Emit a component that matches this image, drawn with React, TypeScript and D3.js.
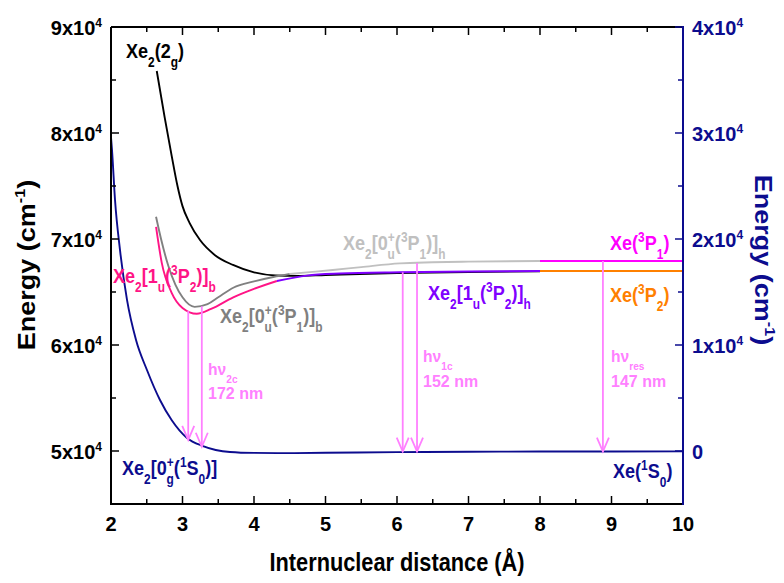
import React from "react";
import * as d3 from "d3";

const WIDTH = 784;
const HEIGHT = 583;
const PLOT = { left: 111, right: 683, top: 27, bottom: 504 };

const FONT = "'Liberation Sans', Arial, Helvetica, sans-serif";
const NAVY = "#0c0c8e";
const ARROW = "#ff80ff";

// Axis domains and ticks
const rDomain: [number, number] = [2, 10];
const energyDomain: [number, number] = [45000, 90000];
const relDomain: [number, number] = [-5000, 40000];
const rMajorTicks = [2, 3, 4, 5, 6, 7, 8, 9, 10];
const rMinorTicks = [2.5, 3.5, 4.5, 5.5, 6.5, 7.5, 8.5, 9.5];
const rTickLabels = ["2", "3", "4", "5", "6", "7", "8", "9", "10"];
const energyMajorTicks = [50000, 60000, 70000, 80000, 90000];
const energyMinorTicks = [55000, 65000, 75000, 85000];
const energyTickLabels = ["5x10^{4}", "6x10^{4}", "7x10^{4}", "8x10^{4}", "9x10^{4}"];
const relMajorTicks = [0, 10000, 20000, 30000, 40000];
const relMinorTicks = [5000, 15000, 25000, 35000];
const relTickLabels = ["0", "1x10^{4}", "2x10^{4}", "3x10^{4}", "4x10^{4}"];

// Potential energy curves: [internuclear distance (Å), energy (cm^-1)]
const groundCurve: [number, number][] = [
  [2.0, 79600], [2.014, 78400], [2.056, 73700], [2.126, 68950], [2.224, 64250],
  [2.35, 60470], [2.503, 57640], [2.685, 54810], [2.85, 52900], [3.063, 51230],
  [3.287, 50470], [3.664, 49910], [4.0, 49820], [4.5, 49800], [5.0, 49830],
  [6.0, 49890], [7.0, 49930], [8.0, 49950], [10.0, 49960],
];
const xe2_2gCurve: [number, number][] = [
  [2.64, 85850], [2.75, 81500], [2.85, 77800], [2.93, 75000], [3.0, 73100],
  [3.1, 71500], [3.245, 69900], [3.45, 68500], [3.706, 67550], [4.0, 66850],
  [4.3, 66560], [4.6, 66520], [5.0, 66600], [6.0, 66780], [7.0, 66880], [8.0, 66950],
];
const xe2_0u_bCurve: [number, number][] = [
  [2.63, 72100], [2.7, 70000], [2.8, 67500], [2.9, 65700], [3.0, 64500],
  [3.17, 63600], [3.35, 63850], [3.5, 64500], [3.71, 65400], [4.0, 66000],
  [4.27, 66420], [4.5, 66700],
];
const xe2_0u_hCurve: [number, number][] = [
  [4.5, 66700], [4.74, 66850], [5.1, 67075], [5.5, 67350], [6.04, 67700],
  [6.5, 67800], [7.0, 67870], [8.0, 67930],
];
const xe2_1u_bCurve: [number, number][] = [
  [2.63, 71150], [2.71, 67750], [2.85, 64900], [3.0, 63500], [3.2, 62950],
  [3.4, 63400], [3.71, 64500], [4.0, 65300], [4.32, 66040],
];
const xe2_1u_hCurve: [number, number][] = [
  [4.32, 66040], [4.74, 66550], [5.2, 66740], [6.04, 66860], [7.0, 66940], [8.0, 66980],
];
// Atomic asymptotes
const xe3P1Level: [number, number][] = [[8.0, 67930], [10.0, 67930]];
const xe3P2Level: [number, number][] = [[8.0, 66980], [10.0, 66980]];

// Emission transitions: position, upper energy, lower energy
const emissionR = [3.08, 3.27, 6.08, 6.28, 8.88];
const emissionUpper = [63200, 63650, 66860, 67740, 67930];
const emissionLower = [51050, 50400, 49950, 49950, 49950];

type Seg = { t: string; k: "n" | "sub" | "sup"; back?: number };

function parse(s: string, smallSize: number): Seg[] {
  const out: Seg[] = [];
  let buf = "";
  let i = 0;
  const flush = () => {
    if (buf) out.push({ t: buf, k: "n" });
    buf = "";
  };
  while (i < s.length) {
    const c = s[i];
    if ((c === "_" || c === "^") && s[i + 1] === "{") {
      flush();
      const j = s.indexOf("}", i);
      out.push({ t: s.slice(i + 2, j), k: c === "_" ? "sub" : "sup" });
      i = j + 1;
    } else {
      buf += c;
      i++;
    }
  }
  flush();
  // a superscript directly followed by a subscript is stacked
  for (let k = 1; k < out.length; k++) {
    if (out[k].k === "sub" && out[k - 1].k === "sup") {
      out[k].back = out[k - 1].t.length * smallSize * 0.6;
    }
  }
  return out;
}

type RichProps = {
  x: number;
  y: number;
  text: string;
  size: number;
  fill: string;
  anchor?: "start" | "middle" | "end";
  rotate?: number;
  sx?: number;
  sy?: number;
  small?: number;
  subShift?: number;
  supShift?: number;
};

function Rich({
  x, y, text, size, fill, anchor = "start", rotate = 0, sx = 1, sy = 1,
  small = 0.66, subShift = 0.42, supShift = 0.4,
}: RichProps) {
  const smallSize = size * small;
  const segs = parse(text, smallSize);
  let cur = 0;
  return (
    <g transform={`translate(${x},${y}) rotate(${rotate}) scale(${sx},${sy})`}>
      <text
        textAnchor={anchor}
        fill={fill}
        fontSize={size}
        fontWeight="bold"
        fontFamily={FONT}
      >
        {segs.map((s, i) => {
          const target = s.k === "sub" ? size * subShift : s.k === "sup" ? -size * supShift : 0;
          const dy = target - cur;
          cur = target;
          return (
            <tspan
              key={i}
              dy={dy}
              dx={s.back ? -s.back : undefined}
              fontSize={s.k === "n" ? size : smallSize}
            >
              {s.t}
            </tspan>
          );
        })}
      </text>
    </g>
  );
}

export default function App() {
  const x = d3.scaleLinear().domain(rDomain).range([PLOT.left, PLOT.right]);
  const yE = d3.scaleLinear().domain(energyDomain).range([PLOT.bottom, PLOT.top]);
  const yRel = d3.scaleLinear().domain(relDomain).range([PLOT.bottom, PLOT.top]);

  const line = d3
    .line<[number, number]>()
    .x((d) => x(d[0]))
    .y((d) => yE(d[1]))
    .curve(d3.curveMonotoneX);

  const curves: { data: [number, number][]; color: string }[] = [
    { data: groundCurve, color: NAVY },
    { data: xe2_2gCurve, color: "#000000" },
    { data: xe2_0u_bCurve, color: "#808080" },
    { data: xe2_0u_hCurve, color: "#c0c0c0" },
    { data: xe2_1u_bCurve, color: "#ff1486" },
    { data: xe2_1u_hCurve, color: "#8000ff" },
    { data: xe3P2Level, color: "#ff8000" },
    { data: xe3P1Level, color: "#ff00ff" },
  ];

  const labelSize = 21;
  const labelSx = 0.86;

  return (
    <svg
      width={WIDTH}
      height={HEIGHT}
      style={{ position: "absolute", left: 0, top: 0, background: "#ffffff" }}
    >
      <rect x={0} y={0} width={WIDTH} height={HEIGHT} fill="#ffffff" />

      {/* potential curves */}
      {curves.map((c, i) => (
        <path key={i} d={line(c.data) ?? ""} fill="none" stroke={c.color} strokeWidth={1.9} />
      ))}

      {/* emission arrows */}
      {emissionR.map((r, i) => {
        const px = x(r);
        const y0 = yE(emissionUpper[i]);
        const y1 = yE(emissionLower[i]);
        return (
          <g key={i} stroke={ARROW} strokeWidth={1.8} fill="none">
            <line x1={px} y1={y0} x2={px} y2={y1} />
            <polyline points={`${px - 6},${y1 - 14} ${px},${y1} ${px + 6},${y1 - 14}`} />
          </g>
        );
      })}

      {/* axes frame */}
      <line x1={PLOT.left} y1={PLOT.bottom} x2={PLOT.right} y2={PLOT.bottom} stroke="#000" strokeWidth={2} />
      <line x1={PLOT.left} y1={PLOT.top} x2={PLOT.right} y2={PLOT.top} stroke="#000" strokeWidth={2} />
      <line x1={PLOT.left} y1={PLOT.top} x2={PLOT.left} y2={PLOT.bottom + 1} stroke="#000" strokeWidth={2} />
      <line x1={PLOT.right} y1={PLOT.top - 1} x2={PLOT.right} y2={PLOT.bottom + 1} stroke={NAVY} strokeWidth={2} />

      {/* bottom and top ticks */}
      {rMajorTicks.slice(1, -1).map((t) => (
        <g key={`xm${t}`} stroke="#000" strokeWidth={1.5}>
          <line x1={x(t)} x2={x(t)} y1={PLOT.bottom} y2={PLOT.bottom - 8} />
          <line x1={x(t)} x2={x(t)} y1={PLOT.top} y2={PLOT.top + 8} />
        </g>
      ))}
      {rMinorTicks.map((t) => (
        <g key={`xn${t}`} stroke="#000" strokeWidth={1.5}>
          <line x1={x(t)} x2={x(t)} y1={PLOT.bottom} y2={PLOT.bottom - 5} />
          <line x1={x(t)} x2={x(t)} y1={PLOT.top} y2={PLOT.top + 5} />
        </g>
      ))}
      {rMajorTicks.map((t, i) => (
        <text
          key={`xl${t}`}
          x={x(t)}
          y={531}
          textAnchor="middle"
          fontSize={20}
          fontWeight="bold"
          fontFamily={FONT}
          fill="#000"
        >
          {rTickLabels[i]}
        </text>
      ))}

      {/* left energy axis */}
      {energyMajorTicks.map((t) => (
        <line key={`lm${t}`} x1={PLOT.left} x2={PLOT.left + 8} y1={yE(t)} y2={yE(t)} stroke="#000" strokeWidth={1.5} />
      ))}
      {energyMinorTicks.map((t) => (
        <line key={`ln${t}`} x1={PLOT.left} x2={PLOT.left + 5} y1={yE(t)} y2={yE(t)} stroke="#000" strokeWidth={1.5} />
      ))}
      {energyMajorTicks.map((t, i) => (
        <Rich
          key={`ll${t}`}
          x={102}
          y={yE(t) + 8}
          text={energyTickLabels[i]}
          size={20}
          fill="#000"
          anchor="end"
          small={0.6}
          supShift={0.38}
        />
      ))}

      {/* right relative energy axis */}
      {relMajorTicks.map((t) => (
        <line key={`rm${t}`} x1={PLOT.right} x2={PLOT.right - 8} y1={yRel(t)} y2={yRel(t)} stroke={NAVY} strokeWidth={1.5} />
      ))}
      {relMinorTicks.map((t) => (
        <line key={`rn${t}`} x1={PLOT.right} x2={PLOT.right - 5} y1={yRel(t)} y2={yRel(t)} stroke={NAVY} strokeWidth={1.5} />
      ))}
      {relMajorTicks.map((t, i) => (
        <Rich
          key={`rl${t}`}
          x={692}
          y={yRel(t) + 8}
          text={relTickLabels[i]}
          size={20}
          fill={NAVY}
          small={0.6}
          supShift={0.38}
        />
      ))}

      {/* axis titles */}
      <Rich x={35} y={265} text="Energy (cm^{-1})" size={27} fill="#000" anchor="middle" rotate={-90} sy={0.88} small={0.6} />
      <Rich x={755} y={260} text="Energy (cm^{-1})" size={27} fill={NAVY} anchor="middle" rotate={90} sy={0.88} small={0.6} />
      <Rich x={397} y={571} text="Internuclear distance (Å)" size={25} fill="#000" anchor="middle" sx={0.87} />

      {/* state labels */}
      <Rich x={126} y={58} text="Xe_{2}(2_{g})" size={labelSize} sx={labelSx} fill="#000" />
      <Rich x={113} y={283} text="Xe_{2}[1_{u}(^{3}P_{2})]_{b}" size={labelSize} sx={labelSx} fill="#ff1486" />
      <Rich x={220} y={323} text="Xe_{2}[0^{+}_{u}(^{3}P_{1})]_{b}" size={labelSize} sx={labelSx} fill="#808080" />
      <Rich x={343} y={250} text="Xe_{2}[0^{+}_{u}(^{3}P_{1})]_{h}" size={labelSize} sx={labelSx} fill="#c0c0c0" />
      <Rich x={428} y={300} text="Xe_{2}[1_{u}(^{3}P_{2})]_{h}" size={labelSize} sx={labelSx} fill="#8000ff" />
      <Rich x={610} y={250} text="Xe(^{3}P_{1})" size={labelSize} sx={labelSx} fill="#ff00ff" />
      <Rich x={610} y={302} text="Xe(^{3}P_{2})" size={labelSize} sx={labelSx} fill="#ff8000" />
      <Rich x={613} y={478} text="Xe(^{1}S_{0})" size={labelSize} sx={labelSx} fill={NAVY} />
      <Rich x={122} y={475} text="Xe_{2}[0^{+}_{g}(^{1}S_{0})]" size={labelSize} sx={labelSx} fill={NAVY} />

      {/* emission labels */}
      <Rich x={208} y={375} text="hν_{2c}" size={17} fill={ARROW} sx={0.92} small={0.65} subShift={0.45} />
      <Rich x={208} y={399} text="172 nm" size={16} fill={ARROW} />
      <Rich x={423} y={362} text="hν_{1c}" size={17} fill={ARROW} sx={0.92} small={0.65} subShift={0.45} />
      <Rich x={423} y={387} text="152 nm" size={16} fill={ARROW} />
      <Rich x={611} y={362} text="hν_{res}" size={17} fill={ARROW} sx={0.92} small={0.65} subShift={0.45} />
      <Rich x={611} y={387} text="147 nm" size={16} fill={ARROW} />
    </svg>
  );
}
